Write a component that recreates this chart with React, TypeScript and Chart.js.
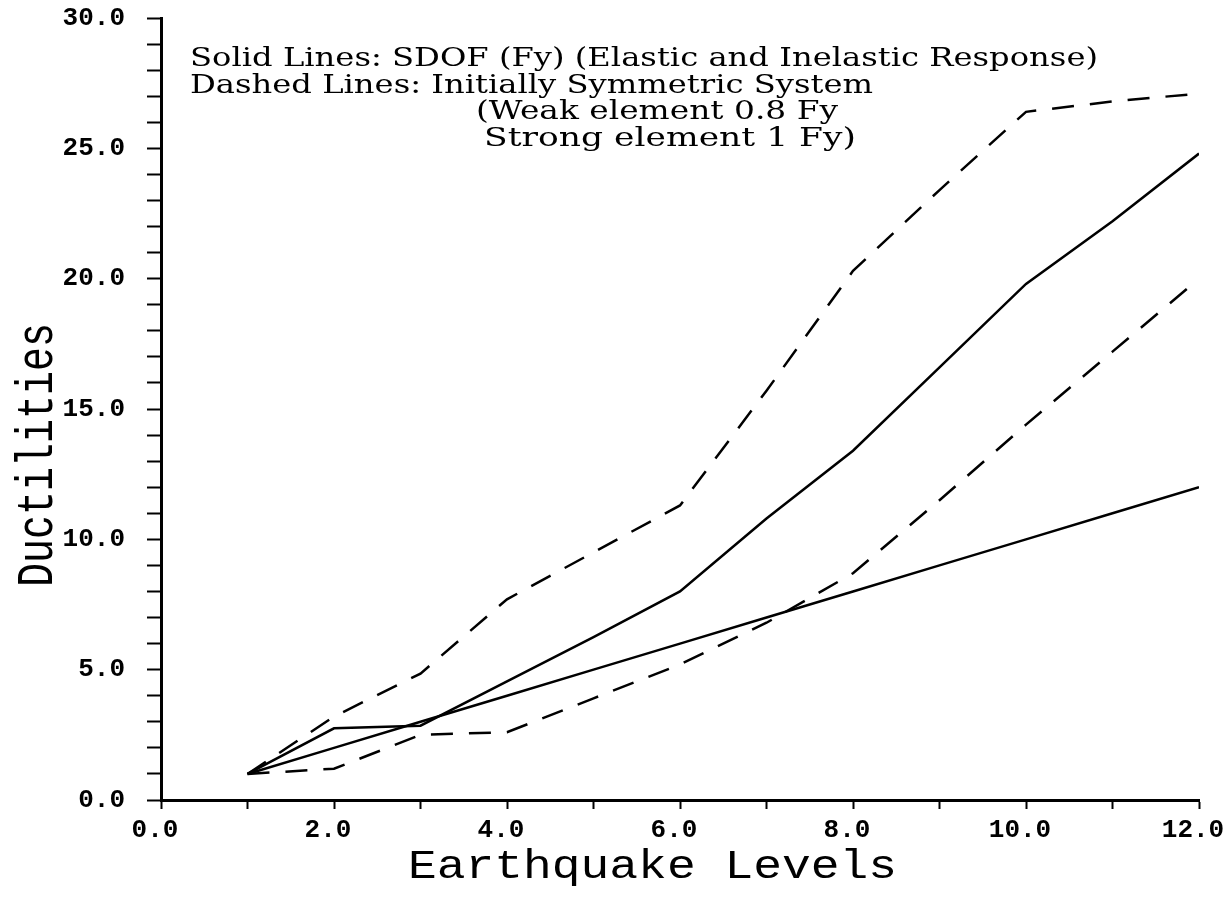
import React, { useEffect, useRef } from "react";
import { Chart, registerables } from "chart.js";

Chart.register(...registerables);

// Earthquake levels (x values)
const levels = [1, 2, 3, 4, 5, 6, 7, 8, 9, 10, 11, 12];
// Solid lines: SDOF (Fy)
const sdofElastic = [1, 2, 3, 4, 5, 6, 7, 8, 9, 10, 11, 12];
const sdofInelastic = [1.0, 2.75, 2.85, 4.55, 6.25, 8.0, 10.8, 13.4, 16.6, 19.8, 22.2, 24.8];
// Dashed lines: initially symmetric system
const weakElement = [1.0, 3.2, 4.85, 7.7, 9.5, 11.3, 15.7, 20.3, 23.4, 26.4, 26.8, 27.1];
const strongElement = [1.0, 1.2, 2.5, 2.6, 3.9, 5.2, 6.8, 8.7, 11.5, 14.4, 17.2, 20.0];

const xTitle = "Earthquake Levels";
const yTitle = "Ductilities";
const noteLines = [
  "Solid Lines: SDOF (Fy) (Elastic and Inelastic Response)",
  "Dashed Lines: Initially Symmetric System",
  "(Weak element 0.8 Fy",
  "Strong element 1 Fy)",
];

const MONO = "'Liberation Mono', monospace";
const NOTE_FONT = "'DejaVu Serif', serif";

function drawFitted(
  ctx: CanvasRenderingContext2D,
  text: string,
  x: number,
  baseline: number,
  width: number,
  capH: number,
  family: string,
  weight: string,
  rotate: boolean
) {
  ctx.save();
  ctx.font = `${weight} 40px ${family}`;
  const w = ctx.measureText(text).width;
  const cap = ctx.measureText("H").actualBoundingBoxAscent || 26;
  const sx = width / w;
  const sy = capH / cap;
  ctx.translate(x, baseline);
  if (rotate) ctx.rotate(-Math.PI / 2);
  ctx.scale(sx, sy);
  ctx.textAlign = "left";
  ctx.textBaseline = "alphabetic";
  ctx.fillStyle = "#000";
  ctx.fillText(text, 0, 0);
  ctx.restore();
}

const textPlugin = {
  id: "plotTexts",
  afterDraw(chart: any) {
    const ctx = chart.ctx as CanvasRenderingContext2D;
    // annotation block
    drawFitted(ctx, noteLines[0], 190, 66, 908, 19, NOTE_FONT, "normal", false);
    drawFitted(ctx, noteLines[1], 190, 93, 683, 19, NOTE_FONT, "normal", false);
    drawFitted(ctx, noteLines[2], 476, 119, 362, 19, NOTE_FONT, "normal", false);
    drawFitted(ctx, noteLines[3], 484, 146, 372, 19, NOTE_FONT, "normal", false);
    // axis titles
    drawFitted(ctx, xTitle, 408, 878, 489, 28, MONO, "normal", false);
    drawFitted(ctx, yTitle, 52, 587, 264, 35, MONO, "normal", true);
  },
};

export default function App() {
  const ref = useRef<HTMLCanvasElement | null>(null);

  useEffect(() => {
    if (!ref.current) return;
    const line = (data: number[], dashed: boolean) => ({
      data: levels.map((x, i) => ({ x, y: data[i] })),
      borderColor: "#000",
      backgroundColor: "#000",
      borderWidth: 2.5,
      borderDash: dashed ? [22, 16] : [],
      pointRadius: 0,
      tension: 0,
      fill: false,
    });
    const chart = new Chart(ref.current, {
      type: "line",
      data: {
        datasets: [
          { label: "SDOF elastic", ...line(sdofElastic, false) },
          { label: "SDOF inelastic", ...line(sdofInelastic, false) },
          { label: "Weak element", ...line(weakElement, true) },
          { label: "Strong element", ...line(strongElement, true) },
        ],
      },
      options: {
        responsive: false,
        animation: false,
        devicePixelRatio: 1,
        layout: { padding: { top: 18, right: 32, bottom: 0, left: 0 } },
        plugins: { legend: { display: false }, tooltip: { enabled: false } },
        scales: {
          x: {
            type: "linear",
            min: 0,
            max: 12,
            afterFit: (s: any) => {
              s.height = 98;
              s.paddingLeft = 0;
              s.paddingRight = 0;
            },
            border: { display: true, color: "#000", width: 3 },
            grid: {
              drawOnChartArea: false,
              drawTicks: true,
              tickLength: 9,
              tickWidth: 2,
              tickColor: "#000",
            },
            ticks: {
              stepSize: 1,
              autoSkip: false,
              maxRotation: 0,
              padding: 6,
              labelOffset: -6,
              color: "#000",
              font: { family: MONO, size: 26, weight: "bold" },
              callback: (v: any) => (Number(v) % 2 === 0 ? Number(v).toFixed(1) : ""),
            },
          },
          y: {
            type: "linear",
            min: 0,
            max: 30,
            afterFit: (s: any) => {
              s.width = 161;
              s.paddingTop = 0;
              s.paddingBottom = 0;
            },
            border: { display: true, color: "#000", width: 3 },
            grid: {
              drawOnChartArea: false,
              drawTicks: true,
              tickLength: 14,
              tickWidth: 2,
              tickColor: "#000",
            },
            ticks: {
              stepSize: 1,
              autoSkip: false,
              padding: 22,
              color: "#000",
              font: { family: MONO, size: 26, weight: "bold" },
              callback: (v: any) => (Number(v) % 5 === 0 ? Number(v).toFixed(1) : ""),
            },
          },
        },
      },
      plugins: [textPlugin],
    } as any);
    return () => chart.destroy();
  }, []);

  return (
    <div
      style={{
        position: "fixed",
        left: 0,
        top: 0,
        width: 1231,
        height: 898,
        background: "#fff",
      }}
    >
      <canvas ref={ref} width={1231} height={898} style={{ width: 1231, height: 898, display: "block" }} />
    </div>
  );
}
